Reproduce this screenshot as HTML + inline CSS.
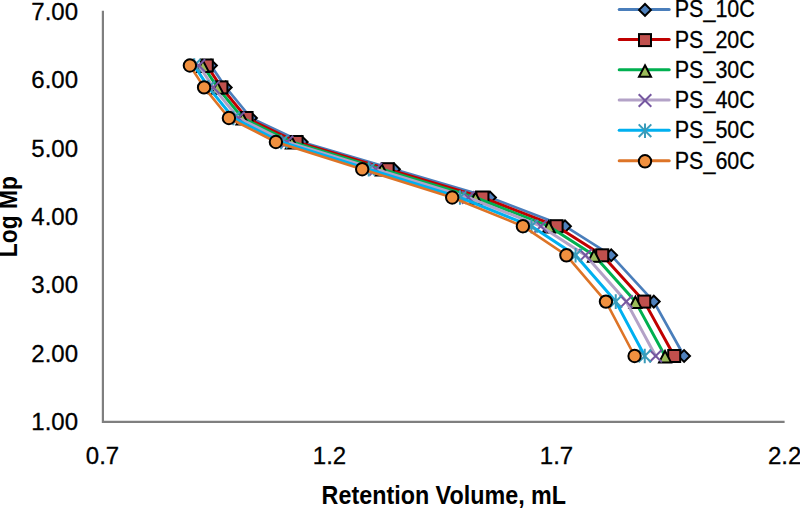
<!DOCTYPE html>
<html><head><meta charset="utf-8"><style>
html,body{margin:0;padding:0;background:#fff;}
svg{display:block;}
.t{font-family:"Liberation Sans",sans-serif;font-size:24px;fill:#000;stroke:#000;stroke-width:0.3px;}
.b{font-family:"Liberation Sans",sans-serif;font-size:25px;font-weight:bold;fill:#000;}
</style></head><body>
<svg width="800" height="508" viewBox="0 0 800 508">
<rect width="800" height="508" fill="#fff"/>
<path d="M102.9 10.8V421.9H784.6" fill="none" stroke="#7f7f7f" stroke-width="2.2"/>
<text x="78" y="19.6" class="t" text-anchor="end">7.00</text><text x="78" y="88.0" class="t" text-anchor="end">6.00</text><text x="78" y="156.5" class="t" text-anchor="end">5.00</text><text x="78" y="225.0" class="t" text-anchor="end">4.00</text><text x="78" y="293.4" class="t" text-anchor="end">3.00</text><text x="78" y="361.9" class="t" text-anchor="end">2.00</text><text x="78" y="430.3" class="t" text-anchor="end">1.00</text>
<text x="102.5" y="464" class="t" text-anchor="middle">0.7</text><text x="329.5" y="464" class="t" text-anchor="middle">1.2</text><text x="556.5" y="464" class="t" text-anchor="middle">1.7</text><text x="784.6" y="464" class="t" text-anchor="middle">2.2</text>
<text x="321.6" y="503.5" class="b" textLength="244.5" lengthAdjust="spacingAndGlyphs">Retention Volume, mL</text>
<text transform="translate(17.2,257.2) rotate(-90)" x="0" y="0" class="b" textLength="81" lengthAdjust="spacingAndGlyphs">Log Mp</text>
<polyline points="211.00,65.50 225.75,87.40 251.00,118.00 301.75,142.00 394.00,169.20 490.00,197.50 565.00,226.20 611.20,255.30 653.80,301.60 684.10,356.00" fill="none" stroke="#4A7EBB" stroke-width="2.7" stroke-linejoin="round" stroke-linecap="round"/>
<path d="M205.10 65.50L211.00 59.60L216.90 65.50L211.00 71.40Z" fill="#4F81BD" stroke="#000" stroke-width="2.0" stroke-linejoin="miter"/>
<path d="M219.85 87.40L225.75 81.50L231.65 87.40L225.75 93.30Z" fill="#4F81BD" stroke="#000" stroke-width="2.0" stroke-linejoin="miter"/>
<path d="M245.10 118.00L251.00 112.10L256.90 118.00L251.00 123.90Z" fill="#4F81BD" stroke="#000" stroke-width="2.0" stroke-linejoin="miter"/>
<path d="M295.85 142.00L301.75 136.10L307.65 142.00L301.75 147.90Z" fill="#4F81BD" stroke="#000" stroke-width="2.0" stroke-linejoin="miter"/>
<path d="M388.10 169.20L394.00 163.30L399.90 169.20L394.00 175.10Z" fill="#4F81BD" stroke="#000" stroke-width="2.0" stroke-linejoin="miter"/>
<path d="M484.10 197.50L490.00 191.60L495.90 197.50L490.00 203.40Z" fill="#4F81BD" stroke="#000" stroke-width="2.0" stroke-linejoin="miter"/>
<path d="M559.10 226.20L565.00 220.30L570.90 226.20L565.00 232.10Z" fill="#4F81BD" stroke="#000" stroke-width="2.0" stroke-linejoin="miter"/>
<path d="M605.30 255.30L611.20 249.40L617.10 255.30L611.20 261.20Z" fill="#4F81BD" stroke="#000" stroke-width="2.0" stroke-linejoin="miter"/>
<path d="M647.90 301.60L653.80 295.70L659.70 301.60L653.80 307.50Z" fill="#4F81BD" stroke="#000" stroke-width="2.0" stroke-linejoin="miter"/>
<path d="M678.20 356.00L684.10 350.10L690.00 356.00L684.10 361.90Z" fill="#4F81BD" stroke="#000" stroke-width="2.0" stroke-linejoin="miter"/>
<polyline points="206.78,65.50 221.42,87.40 246.58,118.00 296.58,142.00 387.64,169.20 482.44,197.50 556.58,226.20 602.24,255.30 644.23,301.60 674.20,356.00" fill="none" stroke="#C00000" stroke-width="3" stroke-linejoin="round" stroke-linecap="round"/>
<rect x="200.78" y="59.50" width="12.00" height="12.00" fill="#C0504D" stroke="#000" stroke-width="2.0"/>
<rect x="215.42" y="81.40" width="12.00" height="12.00" fill="#C0504D" stroke="#000" stroke-width="2.0"/>
<rect x="240.58" y="112.00" width="12.00" height="12.00" fill="#C0504D" stroke="#000" stroke-width="2.0"/>
<rect x="290.58" y="136.00" width="12.00" height="12.00" fill="#C0504D" stroke="#000" stroke-width="2.0"/>
<rect x="381.64" y="163.20" width="12.00" height="12.00" fill="#C0504D" stroke="#000" stroke-width="2.0"/>
<rect x="476.44" y="191.50" width="12.00" height="12.00" fill="#C0504D" stroke="#000" stroke-width="2.0"/>
<rect x="550.58" y="220.20" width="12.00" height="12.00" fill="#C0504D" stroke="#000" stroke-width="2.0"/>
<rect x="596.24" y="249.30" width="12.00" height="12.00" fill="#C0504D" stroke="#000" stroke-width="2.0"/>
<rect x="638.23" y="295.60" width="12.00" height="12.00" fill="#C0504D" stroke="#000" stroke-width="2.0"/>
<rect x="668.20" y="350.00" width="12.00" height="12.00" fill="#C0504D" stroke="#000" stroke-width="2.0"/>
<polyline points="202.88,65.50 217.41,87.40 242.49,118.00 291.80,142.00 381.76,169.20 475.45,197.50 548.79,226.20 593.95,255.30 635.38,301.60 665.04,356.00" fill="none" stroke="#00B050" stroke-width="3" stroke-linejoin="round" stroke-linecap="round"/>
<path d="M202.88 60.50L208.88 71.90L196.88 71.90Z" fill="#9BBB59" stroke="#000" stroke-width="2.0" stroke-linejoin="miter"/>
<path d="M217.41 82.40L223.41 93.80L211.41 93.80Z" fill="#9BBB59" stroke="#000" stroke-width="2.0" stroke-linejoin="miter"/>
<path d="M242.49 113.00L248.49 124.40L236.49 124.40Z" fill="#9BBB59" stroke="#000" stroke-width="2.0" stroke-linejoin="miter"/>
<path d="M291.80 137.00L297.80 148.40L285.80 148.40Z" fill="#9BBB59" stroke="#000" stroke-width="2.0" stroke-linejoin="miter"/>
<path d="M381.76 164.20L387.76 175.60L375.76 175.60Z" fill="#9BBB59" stroke="#000" stroke-width="2.0" stroke-linejoin="miter"/>
<path d="M475.45 192.50L481.45 203.90L469.45 203.90Z" fill="#9BBB59" stroke="#000" stroke-width="2.0" stroke-linejoin="miter"/>
<path d="M548.79 221.20L554.79 232.60L542.79 232.60Z" fill="#9BBB59" stroke="#000" stroke-width="2.0" stroke-linejoin="miter"/>
<path d="M593.95 250.30L599.95 261.70L587.95 261.70Z" fill="#9BBB59" stroke="#000" stroke-width="2.0" stroke-linejoin="miter"/>
<path d="M635.38 296.60L641.38 308.00L629.38 308.00Z" fill="#9BBB59" stroke="#000" stroke-width="2.0" stroke-linejoin="miter"/>
<path d="M665.04 351.00L671.04 362.40L659.04 362.40Z" fill="#9BBB59" stroke="#000" stroke-width="2.0" stroke-linejoin="miter"/>
<polyline points="198.87,65.50 213.30,87.40 238.29,118.00 286.89,142.00 375.71,169.20 468.26,197.50 540.79,226.20 585.44,255.30 626.29,301.60 655.64,356.00" fill="none" stroke="#B3A2C7" stroke-width="3" stroke-linejoin="round" stroke-linecap="round"/>
<path d="M192.57 59.20L205.17 71.80M192.57 71.80L205.17 59.20" stroke="#7557A0" stroke-width="2" fill="none"/>
<path d="M207.00 81.10L219.60 93.70M207.00 93.70L219.60 81.10" stroke="#7557A0" stroke-width="2" fill="none"/>
<path d="M231.99 111.70L244.59 124.30M231.99 124.30L244.59 111.70" stroke="#7557A0" stroke-width="2" fill="none"/>
<path d="M280.59 135.70L293.19 148.30M280.59 148.30L293.19 135.70" stroke="#7557A0" stroke-width="2" fill="none"/>
<path d="M369.41 162.90L382.01 175.50M369.41 175.50L382.01 162.90" stroke="#7557A0" stroke-width="2" fill="none"/>
<path d="M461.96 191.20L474.56 203.80M461.96 203.80L474.56 191.20" stroke="#7557A0" stroke-width="2" fill="none"/>
<path d="M534.49 219.90L547.09 232.50M534.49 232.50L547.09 219.90" stroke="#7557A0" stroke-width="2" fill="none"/>
<path d="M579.14 249.00L591.74 261.60M579.14 261.60L591.74 249.00" stroke="#7557A0" stroke-width="2" fill="none"/>
<path d="M619.99 295.30L632.59 307.90M619.99 307.90L632.59 295.30" stroke="#7557A0" stroke-width="2" fill="none"/>
<path d="M649.34 349.70L661.94 362.30M649.34 362.30L661.94 349.70" stroke="#7557A0" stroke-width="2" fill="none"/>
<polyline points="194.23,65.50 208.54,87.40 233.43,118.00 281.20,142.00 368.72,169.20 459.95,197.50 531.53,226.20 575.58,255.30 615.76,301.60 644.75,356.00" fill="none" stroke="#00B0F0" stroke-width="3" stroke-linejoin="round" stroke-linecap="round"/>
<path d="M187.93 59.20L200.53 71.80M187.93 71.80L200.53 59.20M194.23 58.20L194.23 72.80" stroke="#3A9CBA" stroke-width="2" fill="none"/>
<path d="M202.24 81.10L214.84 93.70M202.24 93.70L214.84 81.10M208.54 80.10L208.54 94.70" stroke="#3A9CBA" stroke-width="2" fill="none"/>
<path d="M227.13 111.70L239.73 124.30M227.13 124.30L239.73 111.70M233.43 110.70L233.43 125.30" stroke="#3A9CBA" stroke-width="2" fill="none"/>
<path d="M274.90 135.70L287.50 148.30M274.90 148.30L287.50 135.70M281.20 134.70L281.20 149.30" stroke="#3A9CBA" stroke-width="2" fill="none"/>
<path d="M362.42 162.90L375.02 175.50M362.42 175.50L375.02 162.90M368.72 161.90L368.72 176.50" stroke="#3A9CBA" stroke-width="2" fill="none"/>
<path d="M453.65 191.20L466.25 203.80M453.65 203.80L466.25 191.20M459.95 190.20L459.95 204.80" stroke="#3A9CBA" stroke-width="2" fill="none"/>
<path d="M525.23 219.90L537.83 232.50M525.23 232.50L537.83 219.90M531.53 218.90L531.53 233.50" stroke="#3A9CBA" stroke-width="2" fill="none"/>
<path d="M569.28 249.00L581.88 261.60M569.28 261.60L581.88 249.00M575.58 248.00L575.58 262.60" stroke="#3A9CBA" stroke-width="2" fill="none"/>
<path d="M609.46 295.30L622.06 307.90M609.46 307.90L622.06 295.30M615.76 294.30L615.76 308.90" stroke="#3A9CBA" stroke-width="2" fill="none"/>
<path d="M638.45 349.70L651.05 362.30M638.45 362.30L651.05 349.70M644.75 348.70L644.75 363.30" stroke="#3A9CBA" stroke-width="2" fill="none"/>
<polyline points="189.90,65.50 204.10,87.40 228.90,118.00 275.90,142.00 362.20,169.20 452.20,197.50 522.90,226.20 566.40,255.30 605.95,301.60 634.60,356.00" fill="none" stroke="#DD7427" stroke-width="2.6" stroke-linejoin="round" stroke-linecap="round"/>
<circle cx="189.90" cy="65.50" r="6.2" fill="#F0903F" stroke="#000" stroke-width="2.0"/>
<circle cx="204.10" cy="87.40" r="6.2" fill="#F0903F" stroke="#000" stroke-width="2.0"/>
<circle cx="228.90" cy="118.00" r="6.2" fill="#F0903F" stroke="#000" stroke-width="2.0"/>
<circle cx="275.90" cy="142.00" r="6.2" fill="#F0903F" stroke="#000" stroke-width="2.0"/>
<circle cx="362.20" cy="169.20" r="6.2" fill="#F0903F" stroke="#000" stroke-width="2.0"/>
<circle cx="452.20" cy="197.50" r="6.2" fill="#F0903F" stroke="#000" stroke-width="2.0"/>
<circle cx="522.90" cy="226.20" r="6.2" fill="#F0903F" stroke="#000" stroke-width="2.0"/>
<circle cx="566.40" cy="255.30" r="6.2" fill="#F0903F" stroke="#000" stroke-width="2.0"/>
<circle cx="605.95" cy="301.60" r="6.2" fill="#F0903F" stroke="#000" stroke-width="2.0"/>
<circle cx="634.60" cy="356.00" r="6.2" fill="#F0903F" stroke="#000" stroke-width="2.0"/>
<line x1="619.2" y1="9.4" x2="669.2" y2="9.4" stroke="#4A7EBB" stroke-width="3" stroke-linecap="round"/>
<path d="M639.10 9.90L645.00 4.00L650.90 9.90L645.00 15.80Z" fill="#4F81BD" stroke="#000" stroke-width="2.0" stroke-linejoin="miter"/>
<text x="674.8" y="17.4" class="t" textLength="80" lengthAdjust="spacingAndGlyphs">PS_10C</text>
<line x1="619.2" y1="39.6" x2="669.2" y2="39.6" stroke="#C00000" stroke-width="3" stroke-linecap="round"/>
<rect x="639.00" y="34.10" width="12.00" height="12.00" fill="#C0504D" stroke="#000" stroke-width="2.0"/>
<text x="674.8" y="47.6" class="t" textLength="80" lengthAdjust="spacingAndGlyphs">PS_20C</text>
<line x1="619.2" y1="69.8" x2="669.2" y2="69.8" stroke="#00B050" stroke-width="3" stroke-linecap="round"/>
<path d="M645.00 65.30L651.00 76.70L639.00 76.70Z" fill="#9BBB59" stroke="#000" stroke-width="2.0" stroke-linejoin="miter"/>
<text x="674.8" y="77.8" class="t" textLength="80" lengthAdjust="spacingAndGlyphs">PS_30C</text>
<line x1="619.2" y1="100.0" x2="669.2" y2="100.0" stroke="#B3A2C7" stroke-width="3" stroke-linecap="round"/>
<path d="M638.70 94.20L651.30 106.80M638.70 106.80L651.30 94.20" stroke="#7557A0" stroke-width="2" fill="none"/>
<text x="674.8" y="108.0" class="t" textLength="80" lengthAdjust="spacingAndGlyphs">PS_40C</text>
<line x1="619.2" y1="130.2" x2="669.2" y2="130.2" stroke="#00B0F0" stroke-width="3" stroke-linecap="round"/>
<path d="M638.70 124.40L651.30 137.00M638.70 137.00L651.30 124.40M645.00 123.40L645.00 138.00" stroke="#3A9CBA" stroke-width="2" fill="none"/>
<text x="674.8" y="138.2" class="t" textLength="80" lengthAdjust="spacingAndGlyphs">PS_50C</text>
<line x1="619.2" y1="160.8" x2="669.2" y2="160.8" stroke="#DD7427" stroke-width="3" stroke-linecap="round"/>
<circle cx="645.00" cy="161.30" r="6.2" fill="#F0903F" stroke="#000" stroke-width="2.0"/>
<text x="674.8" y="168.8" class="t" textLength="80" lengthAdjust="spacingAndGlyphs">PS_60C</text>
</svg>
</body></html>
